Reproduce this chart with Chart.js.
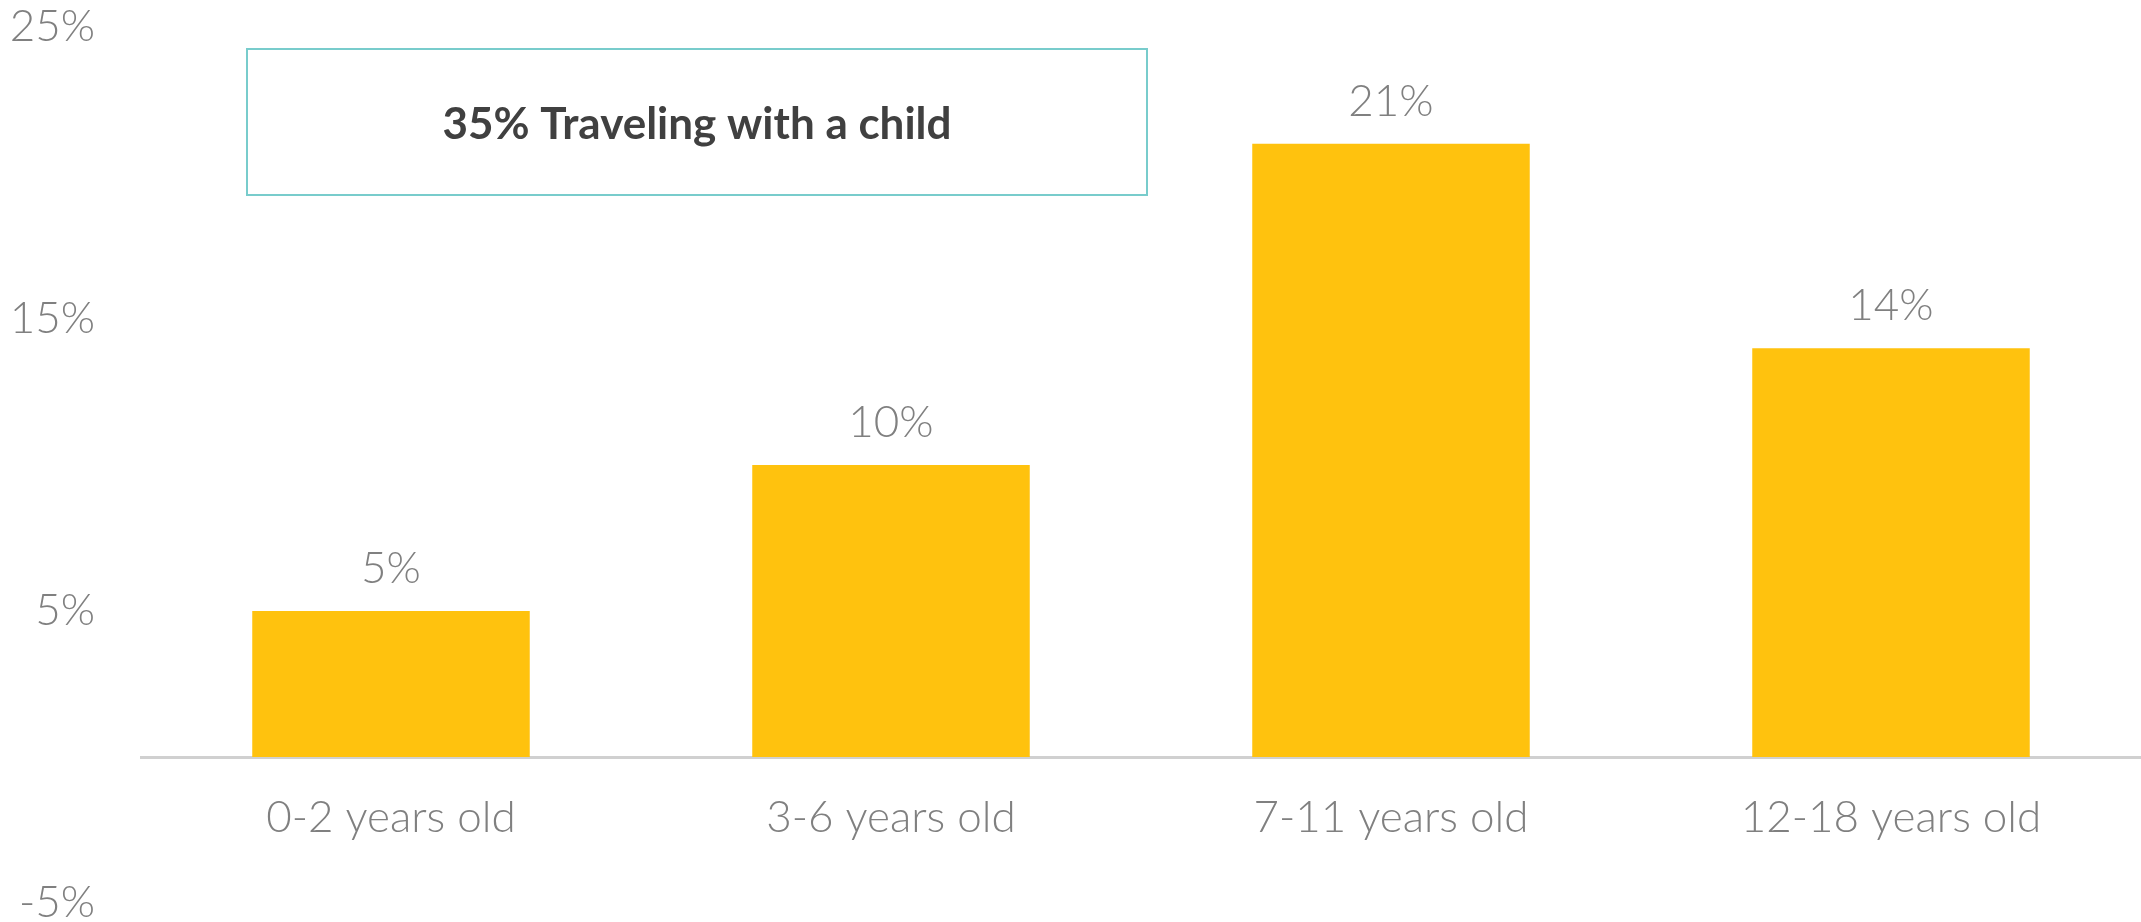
<!DOCTYPE html>
<html>
<head>
<meta charset="utf-8">
<script src="https://cdn.jsdelivr.net/npm/chart.js@4.4.0/dist/chart.umd.min.js"></script>
<style>
  html, body { margin: 0; padding: 0; background: #fff; }
  #wrap { width: 2141px; height: 922px; position: relative; }
</style>
</head>
<body>
<div id="wrap"><canvas id="ageChart"></canvas></div>
<script>
// chart data
const ageGroups = ['0-2 years old', '3-6 years old', '7-11 years old', '12-18 years old'];
const shareValues = [5, 10, 21, 14];
const yTickValues = [-5, 5, 15, 25];
const boxTitle = '35% Traveling with a child';

const greyText = '#808080';
const tickFont = { family: 'Lato', weight: '300', size: 44 };

// draws the value above every bar
const barLabels = {
  id: 'barLabels',
  afterDatasetsDraw(chart) {
    const ctx = chart.ctx;
    const meta = chart.getDatasetMeta(0);
    ctx.save();
    ctx.fillStyle = greyText;
    ctx.font = '300 44px Lato';
    ctx.textAlign = 'center';
    ctx.textBaseline = 'bottom';
    meta.data.forEach((bar, i) => {
      ctx.fillText(shareValues[i] + '%', bar.x, bar.y - 20);
    });
    ctx.restore();
  }
};

// the outlined callout box in the top left
const calloutBox = {
  id: 'calloutBox',
  afterDraw(chart) {
    const ctx = chart.ctx;
    const x = 247, y = 49, w = 900, h = 146;
    ctx.save();
    ctx.strokeStyle = '#78cccc';
    ctx.lineWidth = 2;
    ctx.strokeRect(x, y, w, h);
    ctx.fillStyle = '#404040';
    ctx.font = 'bold 44px Lato';
    ctx.textAlign = 'center';
    ctx.textBaseline = 'middle';
    ctx.fillText(boxTitle, x + w / 2, y + h / 2 + 3);
    ctx.restore();
  }
};

const ctx = document.getElementById('ageChart').getContext('2d');
new Chart(ctx, {
  type: 'bar',
  data: {
    labels: ageGroups,
    datasets: [{
      data: shareValues,
      backgroundColor: '#FFC20E',
      borderWidth: 0,
      categoryPercentage: 1,
      barPercentage: 0.555
    }]
  },
  options: {
    responsive: true,
    maintainAspectRatio: false,
    animation: false,
    layout: { padding: { top: 27, bottom: 19, left: 0, right: 0 } },
    plugins: {
      legend: { display: false },
      tooltip: { enabled: false }
    },
    scales: {
      x: {
        position: { y: 0 },
        grid: { display: false, drawTicks: false },
        border: { display: true, color: '#d0d0d0', width: 3 },
        afterFit(scale) {
          // axis sits on the zero line, so it needs no room of its own
          scale.height = 0;
        },
        ticks: { color: greyText, font: tickFont, padding: 34 }
      },
      y: {
        min: -5,
        max: 25,
        grid: { display: false, drawTicks: false },
        border: { display: false },
        afterBuildTicks(scale) {
          scale.ticks = yTickValues.map(v => ({ value: v }));
        },
        afterFit(scale) {
          scale.width = 141;
          // tick padding would otherwise be added above and below the plot
          scale.paddingTop = 0;
          scale.paddingBottom = 0;
        },
        ticks: {
          color: greyText,
          font: tickFont,
          padding: 46,
          callback: v => v + '%'
        }
      }
    }
  },
  plugins: [barLabels, calloutBox]
});
</script>
</body>
</html>
